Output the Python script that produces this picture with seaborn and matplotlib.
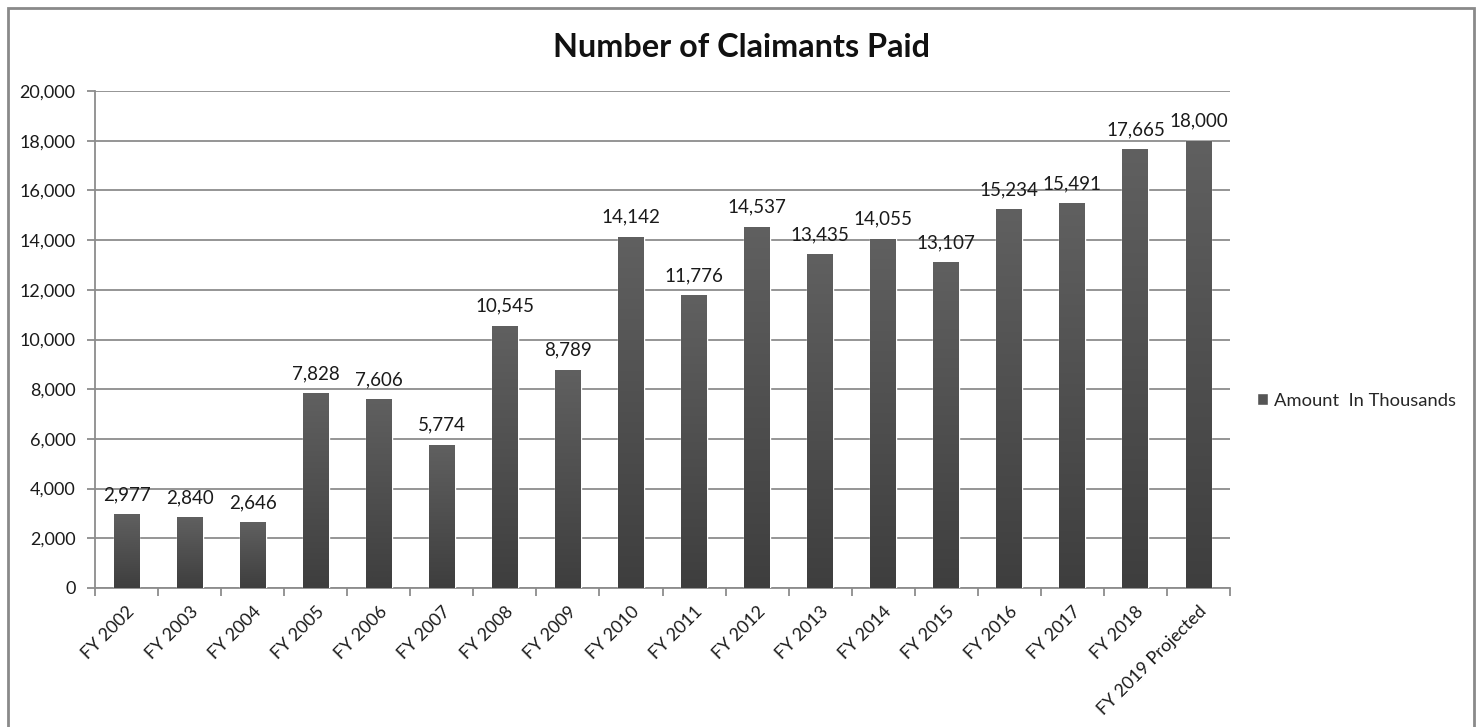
import numpy as np
import pandas as pd
import matplotlib
matplotlib.use("Agg")
import matplotlib.pyplot as plt
import seaborn as sns
from matplotlib.colors import LinearSegmentedColormap
from matplotlib.patches import Rectangle

years = ['FY 2002', 'FY 2003', 'FY 2004', 'FY 2005', 'FY 2006', 'FY 2007',
         'FY 2008', 'FY 2009', 'FY 2010', 'FY 2011', 'FY 2012', 'FY 2013',
         'FY 2014', 'FY 2015', 'FY 2016', 'FY 2017', 'FY 2018',
         'FY 2019 Projected']
claimants = [2977, 2840, 2646, 7828, 7606, 5774, 10545, 8789, 14142, 11776,
             14537, 13435, 14055, 13107, 15234, 15491, 17665, 18000]
series_name = 'Amount  In Thousands'

df = pd.DataFrame({'year': years, 'value': claimants})

sns.set_style("white")
plt.rcParams['font.family'] = ['Lato', 'DejaVu Sans']

fig = plt.figure(figsize=(14.78, 7.27), dpi=100)
ax = fig.add_axes([0.0643, 0.1912, 0.7679, 0.6836])

sns.barplot(data=df, x='year', y='value', color='#595959', width=0.41,
            saturation=1, ax=ax, zorder=3)

# gradient fill on each bar (lighter on top, darker at bottom)
cmap = LinearSegmentedColormap.from_list('bar', ['#3e3e3e', '#606060'])
grad = np.linspace(0, 1, 256).reshape(-1, 1)
for p in ax.patches:
    x0, y0 = p.get_x(), p.get_y()
    w, h = p.get_width(), p.get_height()
    im = ax.imshow(grad, cmap=cmap, origin='lower', aspect='auto',
                   extent=[x0, x0 + w, y0, y0 + h], zorder=4)
    im.set_clip_path(p)

ax.set_xlim(-0.5, len(years) - 0.5)
ax.set_ylim(0, 20000)

ax.bar_label(ax.containers[0], labels=[f'{v:,}' for v in claimants],
             padding=8, fontsize=13.5, color='#1a1a1a')

ax.set_yticks(np.arange(0, 20001, 2000))
ax.set_yticklabels([f'{v:,}' for v in range(0, 20001, 2000)], fontsize=13,
                   color='#1a1a1a')
ax.yaxis.grid(True, color='#8c8c8c', linewidth=1.3, zorder=0)
ax.set_axisbelow(True)

ax.set_xticks(range(len(years)))
ax.set_xticklabels(years, rotation=45, ha='right', rotation_mode='anchor',
                   fontsize=12.8, color='#1a1a1a')
ax.tick_params(axis='x', which='major', length=0, pad=11)
ax.set_xticks(np.arange(-0.5, len(years)), minor=True)
ax.tick_params(axis='x', which='minor', length=6, width=1.3, color='#8c8c8c',
               direction='out', bottom=True)
ax.tick_params(axis='y', length=6, width=1.3, color='#8c8c8c', left=True,
               direction='out', pad=8)

for side in ['top', 'right']:
    ax.spines[side].set_visible(False)
for side in ['left', 'bottom']:
    ax.spines[side].set_color('#8c8c8c')
    ax.spines[side].set_linewidth(1.3)

ax.set_xlabel('')
ax.set_ylabel('')

fig.text(0.5014, 0.934, 'Number of Claimants Paid', ha='center', va='center',
         fontsize=23.3, fontweight='bold', color='#111111')

handle = Rectangle((0, 0), 1, 1, facecolor='#555555')
fig.legend([handle], [series_name], loc='center left',
           bbox_to_anchor=(0.839, 0.449), frameon=False, fontsize=13.2,
           handlelength=0.6, handleheight=0.6, handletextpad=0.35)

fig.patches.append(Rectangle((8 / 1478, -0.02), 1466 / 1478, 1 - 8 / 727 + 0.02,
                             transform=fig.transFigure, fill=False,
                             edgecolor='#8a8a8a', linewidth=2))

fig.savefig('out.png', dpi=100)
